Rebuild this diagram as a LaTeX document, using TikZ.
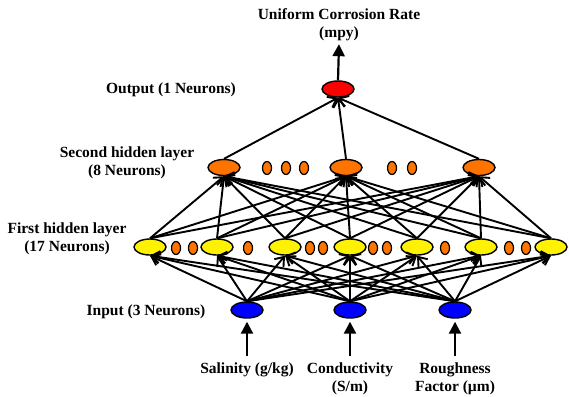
\documentclass[tikz,border=0pt]{standalone}
\usepackage{fontspec}
\setmainfont{Liberation Serif}
\usepackage{tikz}
\usetikzlibrary{arrows.meta}
\usetikzlibrary{shapes.geometric}

\begin{document}
\begin{tikzpicture}[x=1pt,y=-1pt,
		neuron/.style={ellipse,draw,line width=1.4pt,inner sep=0pt,minimum width=32pt,minimum height=16pt},
		dotn/.style={ellipse,draw,line width=1.2pt,fill=orange!90!red,inner sep=0pt,minimum width=9pt,minimum height=13pt},
		lbl/.style={align=center,font=\fontsize{15.5}{18}\selectfont\bfseries},
		conn/.style={line width=1.9pt,-{Straight Barb[length=8pt,width=12pt]}},
		feed/.style={line width=2.2pt,-{Triangle[length=12pt,width=12pt]}}]
		\useasboundingbox (0,0) rectangle (569,396);
		% layer labels
		\node[lbl] (title) at (339,24.5) {Uniform Corrosion Rate\\(mpy)};
		\node[lbl] (outlbl) at (171,90) {Output (1 Neurons)};
		\node[lbl] (seclbl) at (127,162.5) {Second hidden layer\\(8 Neurons)};
		\node[lbl] (firlbl) at (67,238.5) {First hidden layer\\(17 Neurons)};
		\node[lbl] (inlbl) at (146,312) {Input (3 Neurons)};
		\node[lbl,anchor=north] (sal) at (247,359) {Salinity (g/kg)};
		\node[lbl,anchor=north] (cond) at (350,359) {Conductivity\\(S/m)};
		\node[lbl,anchor=north] (rough) at (455,359) {Roughness\\Factor (\textmu m)};
		% neurons
		\node[neuron,fill=red] (out) at (338,89) {};
		\node[neuron,fill=orange!90!red] (g1) at (224,167.5) {};
		\node[neuron,fill=orange!90!red] (g2) at (346,167.5) {};
		\node[neuron,fill=orange!90!red] (g3) at (479,167.5) {};
		\node[dotn] (gd1) at (267,168) {};
		\node[dotn] (gd2) at (286,168) {};
		\node[dotn] (gd3) at (304,168) {};
		\node[dotn] (gd4) at (392,168) {};
		\node[dotn] (gd5) at (412,168) {};
		\node[neuron,fill=yellow] (h1) at (150,247) {};
		\node[neuron,fill=yellow] (h2) at (217,247) {};
		\node[neuron,fill=yellow] (h3) at (285,247) {};
		\node[neuron,fill=yellow] (h4) at (350,247) {};
		\node[neuron,fill=yellow] (h5) at (417,247) {};
		\node[neuron,fill=yellow] (h6) at (481,247) {};
		\node[neuron,fill=yellow] (h7) at (551,247) {};
		\node[dotn] (hd1) at (176,248) {};
		\node[dotn] (hd2) at (193,248) {};
		\node[dotn] (hd3) at (248,248) {};
		\node[dotn] (hd4) at (310,248) {};
		\node[dotn] (hd5) at (323,248) {};
		\node[dotn] (hd6) at (373,248) {};
		\node[dotn] (hd7) at (387,248) {};
		\node[dotn] (hd8) at (445,248) {};
		\node[dotn] (hd9) at (509,248) {};
		\node[dotn] (hd10) at (526,248) {};
		\node[neuron,fill=blue] (in1) at (247,310) {};
		\node[neuron,fill=blue] (in2) at (350,310) {};
		\node[neuron,fill=blue] (in3) at (455,310) {};
		% connections
		\foreach \i in {1,2,3} {
			\foreach \j in {1,...,7} {
				\draw[conn] (in\i.north) -- (h\j.south);
			}
		}
		\foreach \j in {1,...,7} {
			\foreach \k in {1,2,3} {
				\draw[conn] (h\j.north) -- (g\k.south);
			}
		}
		\foreach \k in {1,2,3} {
			\draw[conn] (g\k.north) -- (out.south);
		}
		\draw[feed] (out.north) -- (title.south);
		\draw[feed,shorten <=3pt,shorten >=3pt] (sal.north) -- (in1.south);
		\draw[feed,shorten <=3pt,shorten >=3pt] (cond.north) -- (in2.south);
		\draw[feed,shorten <=3pt,shorten >=3pt] (rough.north) -- (in3.south);
	\end{tikzpicture}
\end{document}
